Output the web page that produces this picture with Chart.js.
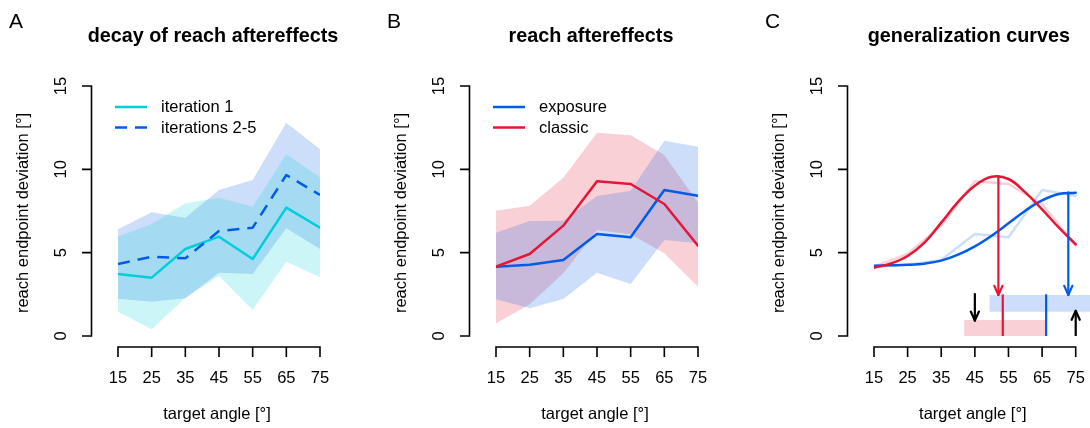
<!DOCTYPE html>
<html>
<head>
<meta charset="utf-8">
<script src="https://cdn.jsdelivr.net/npm/chart.js@4.4.0/dist/chart.umd.min.js"></script>
<style>
    html, body { margin: 0; padding: 0; background: #fff; }
    #wrap { position: relative; width: 1090px; height: 428px; overflow: hidden; }
    canvas { position: absolute; top: 0; }
</style>
</head>
<body>
<div id="wrap">
    <canvas id="panelA" width="363" height="428" style="left:0px"></canvas>
    <canvas id="panelB" width="363" height="428" style="left:363px"></canvas>
    <canvas id="panelC" width="364" height="428" style="left:726px"></canvas>
</div>
<script>
var FONT = "'Liberation Sans', Arial, Helvetica, sans-serif";

var angles = [15, 25, 35, 45, 55, 65, 75];
var xTicks = [15, 25, 35, 45, 55, 65, 75];
var yTicks = [0, 5, 10, 15];

// A: decay of reach aftereffects
var iter1Mean = [3.72, 3.5, 5.22, 5.96, 4.62, 7.7, 6.5];
var iter1Lo = [1.46, 0.4, 2.3, 3.6, 1.56, 4.46, 3.52];
var iter1Hi = [5.96, 6.72, 7.96, 8.3, 7.76, 10.9, 9.52];
var iter25Mean = [4.32, 4.76, 4.66, 6.3, 6.5, 9.66, 8.46];
var iter25Lo = [2.24, 2.06, 2.26, 3.8, 3.72, 6.46, 5.22];
var iter25Hi = [6.4, 7.42, 7.1, 8.76, 9.36, 12.8, 11.2];

// B: reach aftereffects
var exposureMean = [4.16, 4.28, 4.56, 6.12, 5.92, 8.76, 8.42];
var exposureLo = [2.2, 1.66, 2.22, 3.8, 3.12, 5.76, 5.56];
var exposureHi = [6.2, 6.9, 6.92, 8.4, 8.72, 11.72, 11.36];
var classicMean = [4.16, 4.92, 6.62, 9.28, 9.12, 7.92, 5.42];
var classicLo = [0.76, 1.9, 3.76, 6.36, 6.1, 4.96, 2.96];
var classicHi = [7.52, 7.82, 9.5, 12.2, 12.04, 10.86, 8.0];

// C: generalization curves
var classicFitX = [15, 20, 25, 30, 35, 40, 45, 50, 55, 60, 65, 70, 75];
var classicFitY = [4.1, 4.35, 4.8, 5.6, 6.8, 8.05, 9.02, 9.56, 9.42, 8.62, 7.6, 6.5, 5.5];
var exposureFitX = [15, 20, 25, 30, 35, 40, 45, 50, 55, 60, 65, 70, 75];
var exposureFitY = [4.22, 4.24, 4.27, 4.34, 4.52, 4.88, 5.38, 6.02, 6.76, 7.52, 8.14, 8.52, 8.6];
var classicArrowX = [52, 52];
var classicArrowY = [9.6, 2.46];
var exposureArrowX = [72.8, 72.8];
var exposureArrowY = [8.62, 2.46];
var downArrowX = [45, 45];
var downArrowY = [2.52, 0.92];
var upArrowX = [75, 75];
var upArrowY = [0, 1.52];
var classicMarkX = [53.3, 53.3];
var classicMarkY = [0, 2.5];
var exposureMarkX = [66.2, 66.2];
var exposureMarkY = [0, 2.5];
var exposureRangeX = [49.3, 79.25];
var exposureRangeLo = [1.46, 1.46];
var exposureRangeHi = [2.46, 2.46];
var classicRangeX = [41.8, 66.2];
var classicRangeHi = [0.96, 0.96];

var RED = '#e51636';
var BLUE = '#005ce6';
var CYAN = '#00cfd9';
var RED_T = 'rgba(229, 22, 54, 0.2)';
var BLUE_T = 'rgba(0, 92, 230, 0.2)';
var CYAN_T = 'rgba(0, 207, 217, 0.2)';

function pts(xs, ys) {
    return xs.map(function (x, i) { return { x: x, y: ys[i] }; });
}

function line(xs, ys, color, extra) {
    var ds = {
        data: pts(xs, ys),
        borderColor: color,
        borderWidth: 2.5,
        borderCapStyle: 'round',
        borderJoinStyle: 'round',
        pointRadius: 0,
        tension: 0,
        fill: false
    };
    return Object.assign(ds, extra || {});
}

function band(xs, ys, color, fill) {
    return {
        data: pts(xs, ys),
        borderWidth: 0,
        borderColor: 'rgba(0,0,0,0)',
        backgroundColor: color,
        pointRadius: 0,
        tension: 0,
        fill: fill
    };
}

// R-style detached axes, titles, labels and legend
var rAxes = {
    id: 'rAxes',
    afterDraw: function (chart, args, opts) {
        var ctx = chart.ctx;
        var xs = chart.scales.x, ys = chart.scales.y;
        var left = xs.getPixelForValue(xTicks[0]);
        var right = xs.getPixelForValue(xTicks[xTicks.length - 1]);
        var bottom = ys.getPixelForValue(yTicks[0]);
        var top = ys.getPixelForValue(yTicks[yTicks.length - 1]);
        var axisX = left - 26.5;
        var axisY = bottom + 11;
        var mid = (left + right) / 2;

        ctx.save();
        ctx.strokeStyle = '#000';
        ctx.fillStyle = '#000';
        ctx.lineWidth = 1.6;
        ctx.lineCap = 'butt';

        ctx.beginPath();
        ctx.moveTo(axisX, bottom);
        ctx.lineTo(axisX, top);
        yTicks.forEach(function (t) {
            var py = ys.getPixelForValue(t);
            ctx.moveTo(axisX + 0.8, py);
            ctx.lineTo(axisX - 9.5, py);
        });
        ctx.moveTo(left, axisY);
        ctx.lineTo(right, axisY);
        xTicks.forEach(function (t) {
            var px = xs.getPixelForValue(t);
            ctx.moveTo(px, axisY - 0.8);
            ctx.lineTo(px, axisY + 10);
        });
        ctx.stroke();

        ctx.font = '16.5px ' + FONT;
        ctx.textAlign = 'center';
        ctx.textBaseline = 'middle';
        xTicks.forEach(function (t) {
            ctx.fillText(String(t), xs.getPixelForValue(t), 378);
        });
        yTicks.forEach(function (t) {
            ctx.save();
            ctx.translate(axisX - 30, ys.getPixelForValue(t));
            ctx.rotate(-Math.PI / 2);
            ctx.fillText(String(t), 0, 0);
            ctx.restore();
        });

        ctx.fillText('target angle [°]', mid - 2, 414);
        ctx.save();
        ctx.translate(axisX - 68.5, (top + bottom) / 2 + 2);
        ctx.rotate(-Math.PI / 2);
        ctx.fillText('reach endpoint deviation [°]', 0, 0);
        ctx.restore();

        ctx.textBaseline = 'alphabetic';
        ctx.font = 'bold 19.8px ' + FONT;
        ctx.fillText(opts.title, mid - 6, 42);

        ctx.textAlign = 'left';
        ctx.font = '21px ' + FONT;
        ctx.fillText(opts.letter, left - 109, 28);

        if (opts.legend) {
            ctx.font = '16.5px ' + FONT;
            ctx.textBaseline = 'middle';
            opts.legend.forEach(function (item, i) {
                var y = 107 + i * 20.5;
                ctx.save();
                ctx.strokeStyle = item.color;
                ctx.lineWidth = 2.5;
                ctx.setLineDash(item.dash || []);
                ctx.beginPath();
                ctx.moveTo(left - 3, y);
                ctx.lineTo(left + 29, y);
                ctx.stroke();
                ctx.restore();
                ctx.fillText(item.label, left + 43, y + 0.5);
            });
        }
        ctx.restore();
    }
};

// open R-style arrow heads at the end of flagged datasets
var arrowHeads = {
    id: 'arrowHeads',
    afterDatasetsDraw: function (chart) {
        var ctx = chart.ctx;
        chart.data.datasets.forEach(function (ds, i) {
            if (!ds.arrowHead) return;
            var p = chart.getDatasetMeta(i).data;
            var tip = p[p.length - 1], from = p[p.length - 2];
            var ang = Math.atan2(tip.y - from.y, tip.x - from.x);
            var len = 10, spread = Math.PI / 7.5;
            ctx.save();
            ctx.strokeStyle = ds.borderColor;
            ctx.lineWidth = ds.borderWidth;
            ctx.lineCap = 'round';
            ctx.lineJoin = 'round';
            ctx.beginPath();
            ctx.moveTo(tip.x - len * Math.cos(ang - spread), tip.y - len * Math.sin(ang - spread));
            ctx.lineTo(tip.x, tip.y);
            ctx.lineTo(tip.x - len * Math.cos(ang + spread), tip.y - len * Math.sin(ang + spread));
            ctx.stroke();
            ctx.restore();
        });
    }
};

function makeChart(id, datasets, xMax, padding, opts) {
    return new Chart(document.getElementById(id), {
        type: 'line',
        data: { datasets: datasets },
        options: {
            responsive: false,
            animation: false,
            events: [],
            layout: { padding: padding },
            scales: {
                x: { type: 'linear', min: 15, max: xMax, display: false },
                y: { type: 'linear', min: 0, max: 15, display: false }
            },
            plugins: {
                legend: { display: false },
                tooltip: { enabled: false },
                title: { display: false },
                rAxes: opts
            }
        },
        plugins: [rAxes, arrowHeads]
    });
}

makeChart('panelA', [
    line(angles, iter25Mean, BLUE, { borderDash: [12, 8], borderCapStyle: 'butt' }),
    line(angles, iter1Mean, CYAN),
    band(angles, iter1Lo, CYAN_T, false),
    band(angles, iter1Hi, CYAN_T, '-1'),
    band(angles, iter25Lo, BLUE_T, false),
    band(angles, iter25Hi, BLUE_T, '-1')
], 75, { left: 118, right: 43, top: 86, bottom: 92 }, {
    title: 'decay of reach aftereffects',
    letter: 'A',
    legend: [
        { label: 'iteration 1', color: CYAN },
        { label: 'iterations 2-5', color: BLUE, dash: [12, 8] }
    ]
});

makeChart('panelB', [
    line(angles, classicMean, RED),
    line(angles, exposureMean, BLUE),
    band(angles, exposureLo, BLUE_T, false),
    band(angles, exposureHi, BLUE_T, '-1'),
    band(angles, classicLo, RED_T, false),
    band(angles, classicHi, RED_T, '-1')
], 75, { left: 133, right: 28, top: 86, bottom: 92 }, {
    title: 'reach aftereffects',
    letter: 'B',
    legend: [
        { label: 'exposure', color: BLUE },
        { label: 'classic', color: RED }
    ]
});

makeChart('panelC', [
    line(classicMarkX, classicMarkY, RED, { borderWidth: 2.2, borderCapStyle: 'butt' }),
    line(exposureMarkX, exposureMarkY, BLUE, { borderWidth: 2.2, borderCapStyle: 'butt' }),
    line(classicArrowX, classicArrowY, RED, { borderWidth: 2.2, arrowHead: true }),
    line(exposureArrowX, exposureArrowY, BLUE, { borderWidth: 2.2, arrowHead: true }),
    line(downArrowX, downArrowY, '#000', { borderWidth: 2.2, arrowHead: true }),
    line(upArrowX, upArrowY, '#000', { borderWidth: 2.2, arrowHead: true, borderCapStyle: 'butt' }),
    line(classicFitX, classicFitY, RED, { tension: 0.4 }),
    line(exposureFitX, exposureFitY, BLUE, { tension: 0.4 }),
    line(angles, classicMean, RED_T),
    line(angles, exposureMean, BLUE_T),
    band(exposureRangeX, exposureRangeLo, BLUE_T, false),
    band(exposureRangeX, exposureRangeHi, BLUE_T, '-1'),
    band(classicRangeX, classicRangeHi, RED_T, { value: 0 })
], 79.25, { left: 148, right: 0, top: 86, bottom: 92 }, {
    title: 'generalization curves',
    letter: 'C'
});
</script>
</body>
</html>
